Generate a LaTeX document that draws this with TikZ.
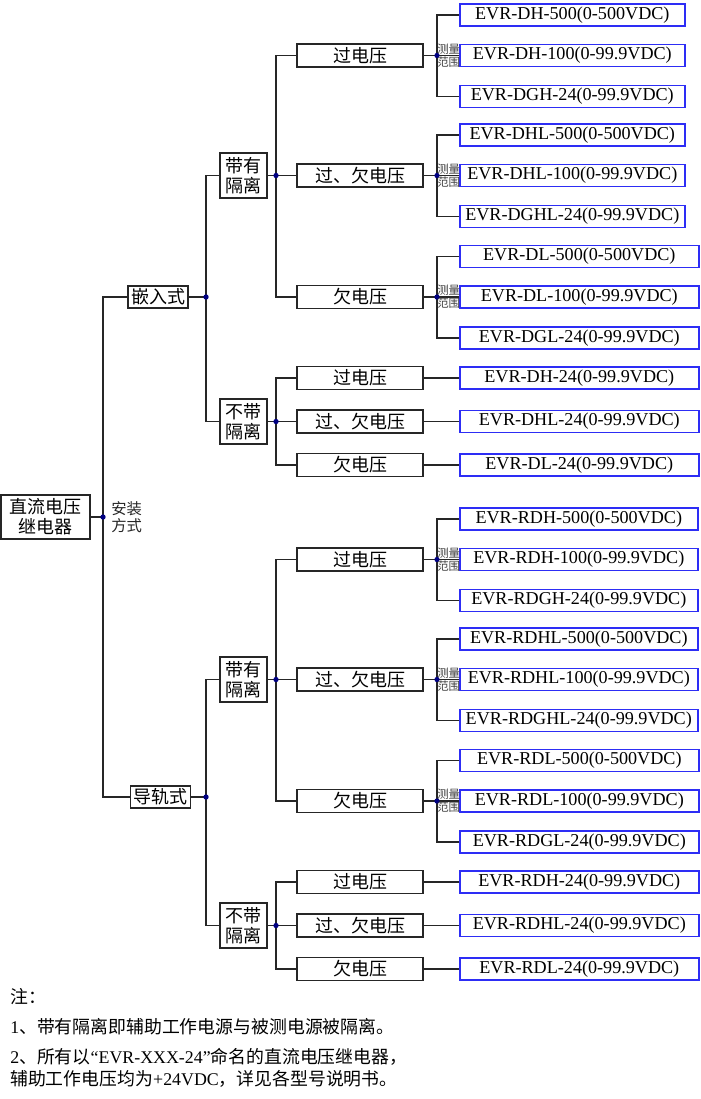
\documentclass[tikz,border=0pt]{standalone}
\usepackage{fontspec}
\setmainfont{Liberation Serif}
\newfontfamily\cjk{Noto Sans CJK SC}
\newcommand{\pix}{0.75pt}
\definecolor{boxblue}{RGB}{45,45,245}
\definecolor{dotblue}{RGB}{0,0,130}
\tikzstyle{root} = [rectangle, draw=black!85, line width=0.85pt,
minimum width=89*\pix, minimum height=44*\pix, inner sep=0pt,
align=center, font=\cjk\fontsize{13.5}{15}\selectfont]
\tikzstyle{mount} = [rectangle, draw=black!85, line width=0.85pt,
minimum width=60*\pix, minimum height=22*\pix, inner sep=0pt,
font=\cjk\fontsize{13.5}{15}\selectfont]
\tikzstyle{iso} = [rectangle, draw=black!85, line width=0.85pt,
minimum width=47*\pix, minimum height=45*\pix, inner sep=0pt,
align=center, font=\cjk\fontsize{13.5}{15}\selectfont]
\tikzstyle{kind} = [rectangle, draw=black!85, line width=0.85pt,
minimum width=126*\pix, minimum height=23*\pix, inner sep=0pt,
font=\cjk\fontsize{13.5}{15}\selectfont]
\tikzstyle{model} = [rectangle, draw=boxblue, line width=1.2pt,
minimum height=22*\pix, inner sep=0pt, anchor=west,
font=\fontsize{13.6}{15}\selectfont]
\tikzstyle{wire} = [line width=0.9pt, draw=black!85]
\tikzstyle{tag} = [anchor=west, inner sep=0pt, align=left, text=black!75,
font=\cjk\fontsize{8.6}{9.8}\selectfont]
\tikzstyle{note} = [anchor=west, inner sep=0pt, font=\fontsize{13.4}{16}\selectfont]

\begin{document}
\begin{tikzpicture}[x=\pix, y=-\pix]
\useasboundingbox (0,0) rectangle (700,1099);

\node (relay) [root] at (45.5,517) {直流电压\\继电器};
\coordinate (j0) at (103,517);
\node (how) [tag, text=black!85, font=\cjk\fontsize{11.5}{12.8}\selectfont] at (111,517) {安装\\方式};

\foreach \m/\p/\y/\my/\mx/\mname/\w in {emb/EVR-/0/297/158/嵌入式/225, rail/EVR-R/504/797/160.5/导轨式/238}{
  \node (\m) [mount] at (\mx,\my) {\mname};
  \coordinate (ja\m) at (206,\my);
  \node (iso\m) [iso] at (243.5,175.5+\y) {带有\\隔离};
  \node (noi\m) [iso] at (243.5,421.5+\y) {不带\\隔离};
  \coordinate (jb\m) at (276,175.5+\y);
  \coordinate (jc\m) at (276,421.5+\y);
  \draw [wire] (\m) -- (ja\m);
  \draw [wire] (iso\m.west) -| (ja\m) |- (noi\m.west);
  \draw [wire] (iso\m) -- (jb\m);
  \draw [wire] (noi\m) -- (jc\m);
  % with isolation: three ranges per kind
  \foreach \k/\tp/\ky/\kw/\kname in {ov/H/55.5/\w/过电压, ou/HL/175.5/\w/过、欠电压, un/L/297/239/欠电压}{
    \node (\k\m) [kind] at (360,\ky+\y) {\kname};
    \coordinate (jd\k\m) at (437,\ky+\y);
    \node (\k\m-a) [model, minimum width=\kw*\pix] at (459,\ky-40.5+\y) {\p D\tp-500(0-500VDC)};
    \node (\k\m-b) [model, minimum width=\kw*\pix] at (459,\ky+\y) {\p D\tp-100(0-99.9VDC)};
    \node (\k\m-c) [model, minimum width=\kw*\pix] at (459,\ky+41+\y) {\p DG\tp-24(0-99.9VDC)};
    \draw [wire] (\k\m) -- (jd\k\m);
    \draw [wire] (\k\m-a.west) -| (jd\k\m) |- (\k\m-c.west);
    \draw [wire] (jd\k\m) -- (\k\m-b.west);
    \fill [dotblue] (jd\k\m) circle (2pt);
    \node (rg\k\m) [tag] at (jd\k\m) {测量\\范围};
  }
  \draw [wire] (ov\m.west) -| (jb\m) |- (un\m.west);
  \draw [wire] (jb\m) -- (ou\m.west);
  % without isolation: one model per kind
  \foreach \k/\tp/\ky/\kname in {nov/H/378/过电压, nou/HL/421.5/过、欠电压, nun/L/465/欠电压}{
    \node (\k\m) [kind] at (360,\ky+\y) {\kname};
    \node (\k\m-a) [model, minimum width=239*\pix] at (459,\ky+\y) {\p D\tp-24(0-99.9VDC)};
    \draw [wire] (\k\m) -- (\k\m-a);
  }
  \draw [wire] (nov\m.west) -| (jc\m) |- (nun\m.west);
  \draw [wire] (jc\m) -- (nou\m.west);
  \fill [dotblue] (ja\m) circle (2pt);
  \fill [dotblue] (jb\m) circle (2pt);
  \fill [dotblue] (jc\m) circle (2pt);
}

\draw [wire] (relay) -- (j0);
\draw [wire] (emb.west) -| (j0) |- (rail.west);
\fill [dotblue] (j0) circle (2pt);

\node (n0) [note] at (10,997) {{\cjk 注：}};
\node (n1) [note] at (10,1027) {1{\cjk 、带有隔离即辅助工作电源与被测电源被隔离。}};
\node (n2) [note] at (10,1057) {2{\cjk 、所有以}“EVR-XXX-24”{\cjk 命名的直流电压继电器，}};
\node (n3) [note] at (10,1079) {{\cjk 辅助工作电压均为}+24VDC{\cjk ，详见各型号说明书。}};

\end{tikzpicture}
\end{document}
